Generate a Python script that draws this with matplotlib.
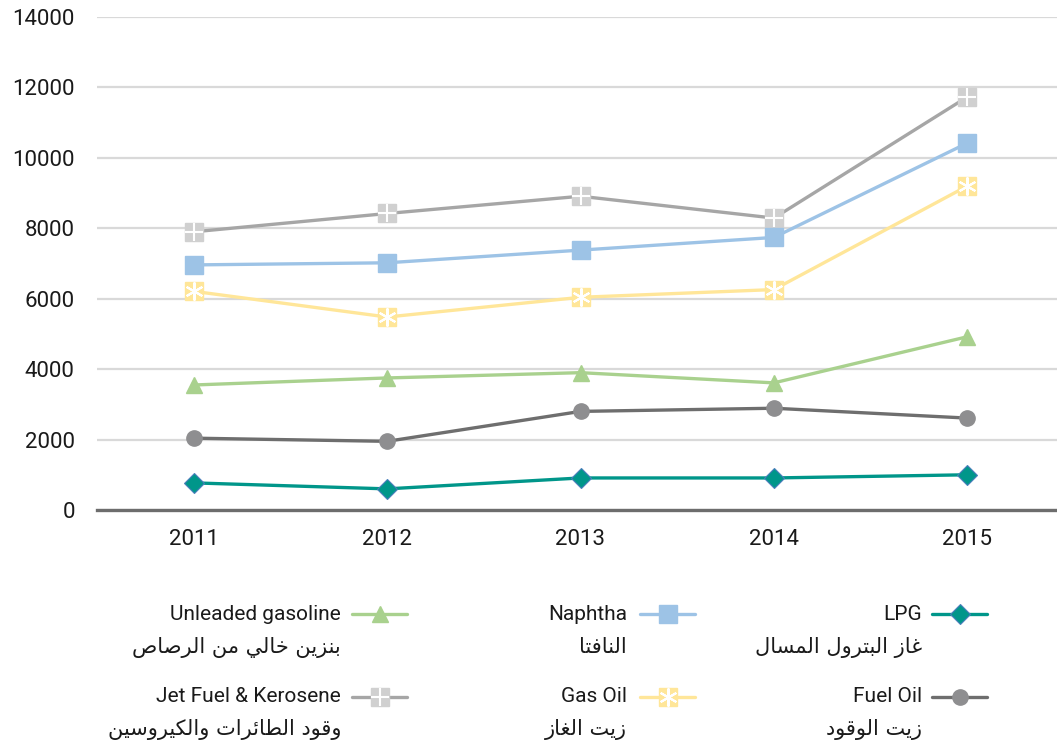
import matplotlib
matplotlib.use("Agg")
import matplotlib.pyplot as plt
from matplotlib.lines import Line2D

plt.rcParams['font.family'] = ['Roboto', 'DejaVu Sans']

years = ['2011', '2012', '2013', '2014', '2015']
lpg = [770, 600, 910, 910, 1000]
fuel_oil = [2040, 1950, 2800, 2890, 2610]
unleaded = [3550, 3750, 3900, 3610, 4920]
gas_oil = [6210, 5480, 6040, 6260, 9200]
naphtha = [6960, 7020, 7380, 7740, 10420]
jet_fuel = [7900, 8420, 8910, 8290, 11730]

names_en = ['Unleaded gasoline', 'Naphtha', 'LPG',
            'Jet Fuel & Kerosene', 'Gas Oil', 'Fuel Oil']
names_ar = ['بنزين خالي من الرصاص', 'النافتا', 'غاز البترول المسال',
            'وقود الطائرات والكيروسين', 'زيت الغاز', 'زيت الوقود']
yticks = [0, 2000, 4000, 6000, 8000, 10000, 12000, 14000]

# --- minimal Arabic shaping (presentation forms) + visual reversal ---
FORMS = {
    'ا': (0xFE8D, 0xFE8E), 'ب': (0xFE8F, 0xFE90, 0xFE91, 0xFE92),
    'ت': (0xFE95, 0xFE96, 0xFE97, 0xFE98), 'خ': (0xFEA5, 0xFEA6, 0xFEA7, 0xFEA8),
    'د': (0xFEA9, 0xFEAA), 'ر': (0xFEAD, 0xFEAE), 'ز': (0xFEAF, 0xFEB0),
    'س': (0xFEB1, 0xFEB2, 0xFEB3, 0xFEB4), 'ص': (0xFEB9, 0xFEBA, 0xFEBB, 0xFEBC),
    'ط': (0xFEC1, 0xFEC2, 0xFEC3, 0xFEC4), 'غ': (0xFECD, 0xFECE, 0xFECF, 0xFED0),
    'ف': (0xFED1, 0xFED2, 0xFED3, 0xFED4), 'ق': (0xFED5, 0xFED6, 0xFED7, 0xFED8),
    'ك': (0xFED9, 0xFEDA, 0xFEDB, 0xFEDC), 'ل': (0xFEDD, 0xFEDE, 0xFEDF, 0xFEE0),
    'م': (0xFEE1, 0xFEE2, 0xFEE3, 0xFEE4), 'ن': (0xFEE5, 0xFEE6, 0xFEE7, 0xFEE8),
    'و': (0xFEED, 0xFEEE), 'ي': (0xFEF1, 0xFEF2, 0xFEF3, 0xFEF4),
    'ئ': (0xFE89, 0xFE8A, 0xFE8B, 0xFE8C),
}


def shape(text):
    out = []
    n = len(text)
    for i, c in enumerate(text):
        if c not in FORMS:
            out.append(c)
            continue
        f = FORMS[c]
        prev = text[i - 1] if i > 0 else None
        nxt = text[i + 1] if i + 1 < n else None
        jp = prev in FORMS and len(FORMS[prev]) == 4
        jn = nxt in FORMS and len(f) == 4
        if jp and jn:
            code = f[3]
        elif jp:
            code = f[1]
        elif jn:
            code = f[2]
        else:
            code = f[0]
        out.append(chr(code))
    return ''.join(reversed(out))


W, H = 1057, 742
fig = plt.figure(figsize=(W / 100, H / 100), dpi=100)
ax = fig.add_axes([97 / W, 1 - 510 / H, (1064 - 97) / W, (510 - 17) / H])

x = list(range(len(years)))
lw = 2.4
txt = '#1a1a1a'

# Jet fuel
ax.plot(x, jet_fuel, color='#A6A6A6', lw=lw, marker='s', ms=12.5,
        mfc='#D0D0D0', mec='#D0D0D0', zorder=3)
ax.plot(x, jet_fuel, ls='none', marker='+', ms=12.5, mec='white', mew=1.5, zorder=4)
# Naphtha
ax.plot(x, naphtha, color='#9DC3E6', lw=lw, marker='s', ms=12.5,
        mfc='#9DC3E6', mec='#9DC3E6', zorder=3)
# Gas oil
ax.plot(x, gas_oil, color='#FFE699', lw=lw, marker='s', ms=12.5,
        mfc='#FFE699', mec='#FFE699', zorder=3)
ax.plot(x, gas_oil, ls='none', marker=(6, 2, 0), ms=13, mec='white', mew=1.5, zorder=4)
# Unleaded
ax.plot(x, unleaded, color='#A9D18E', lw=lw, marker='^', ms=11,
        mfc='#A9D18E', mec='#A9D18E', zorder=3)
# Fuel oil
ax.plot(x, fuel_oil, color='#6E6E6E', lw=lw, marker='o', ms=11,
        mfc='#8E8E90', mec='#8E8E90', zorder=3)
# LPG
ax.plot(x, lpg, color='#00968A', lw=lw, marker='D', ms=10,
        mfc='#00968A', mec='#4A7EBB', mew=0.8, zorder=3)

ax.set_xlim(-0.5, 4.5)
ax.set_ylim(0, 14000)
ax.set_yticks(yticks)
ax.set_yticklabels([str(v) for v in yticks])
ax.set_xticks(x)
ax.set_xticklabels(years)
ax.tick_params(axis='both', length=0, labelsize=16, colors=txt)
ax.tick_params(axis='y', pad=16)
ax.tick_params(axis='x', pad=14)
for s in ['top', 'right', 'left']:
    ax.spines[s].set_visible(False)
ax.spines['bottom'].set_color('#6D6D6D')
ax.spines['bottom'].set_linewidth(2.4)
ax.spines['bottom'].set_zorder(5)
ax.grid(axis='y', color='#D9D9D9', lw=1.6)
ax.set_axisbelow(True)

# --- manual legend ---
styles = [
    dict(color='#A9D18E', marker='^', ms=11, mfc='#A9D18E', mec='#A9D18E'),
    dict(color='#9DC3E6', marker='s', ms=12.5, mfc='#9DC3E6', mec='#9DC3E6'),
    dict(color='#00968A', marker='D', ms=10, mfc='#00968A', mec='#4A7EBB', mew=0.8),
    dict(color='#A6A6A6', marker='s', ms=12.5, mfc='#D0D0D0', mec='#D0D0D0'),
    dict(color='#FFE699', marker='s', ms=12.5, mfc='#FFE699', mec='#FFE699'),
    dict(color='#6E6E6E', marker='o', ms=11, mfc='#8E8E90', mec='#8E8E90'),
]
overlays = [None, None, None, dict(marker='+', ms=12.5, mec='white', mew=1.5),
            dict(marker=(6, 2, 0), ms=13, mec='white', mew=1.5), None]
text_right = [341, 627, 922]
line_x = [(352, 407), (640, 695), (932, 987)]
row_y = [614, 697]
ar_dy = 33

for i in range(6):
    r, c = divmod(i, 3)
    y = row_y[r]
    fig.text(text_right[c] / W, 1 - y / H, names_en[i], ha='right', va='center',
             fontsize=15, color=txt)
    fig.text(text_right[c] / W, 1 - (y + ar_dy) / H, shape(names_ar[i]), ha='right',
             va='center', fontsize=15, color=txt, family=['DejaVu Sans'])
    x0, x1 = line_x[c]
    fig.add_artist(Line2D([x0 / W, x1 / W], [1 - y / H, 1 - y / H], lw=lw,
                          color=styles[i]['color'], transform=fig.transFigure,
                          solid_capstyle='round'))
    st = dict(styles[i])
    st.pop('color')
    fig.add_artist(Line2D([(x0 + x1) / 2 / W], [1 - y / H], ls='none',
                          transform=fig.transFigure, **st))
    if overlays[i]:
        fig.add_artist(Line2D([(x0 + x1) / 2 / W], [1 - y / H], ls='none',
                              transform=fig.transFigure, **overlays[i]))

fig.savefig('out.png', dpi=100)
